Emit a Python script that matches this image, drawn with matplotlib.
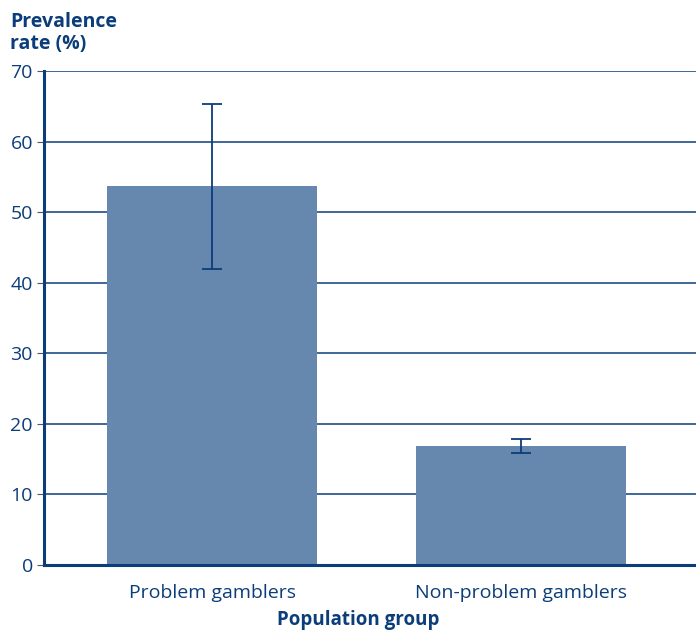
import matplotlib
matplotlib.use("Agg")
import matplotlib.pyplot as plt

categories = ["Problem gamblers", "Non-problem gamblers"]
values = [53.7, 16.9]
err_low = [42.0, 15.9]
err_high = [65.3, 17.9]
yticks = [0, 10, 20, 30, 40, 50, 60, 70]

navy = "#0B3D7A"
barc = "#6688AE"
plt.rcParams['font.family'] = ['Open Sans', 'DejaVu Sans']

fig = plt.figure(figsize=(6.96, 6.31), dpi=100)
ax = fig.add_axes([44/696, 1 - 565/631, (696-44)/696, (565-71)/631])

x = list(range(len(categories)))
lower = [v - l for v, l in zip(values, err_low)]
upper = [h - v for v, h in zip(values, err_high)]
ax.bar(x, values, width=0.68, color=barc, zorder=2)
ax.errorbar(x, values, yerr=[lower, upper], fmt='none', ecolor=navy,
            elinewidth=1.3, capsize=7.5, capthick=1.3, zorder=3)

ax.set_xlim(-0.544, 1.566)
ax.set_ylim(0, 70)
ax.set_yticks(yticks)
ax.set_xticks(x)
ax.set_xticklabels(categories)
ax.yaxis.grid(True, color=navy, linewidth=1.1, zorder=1)
ax.set_axisbelow(True)
for s in ['top', 'right']:
    ax.spines[s].set_visible(False)
for s in ['left', 'bottom']:
    ax.spines[s].set_color(navy)
    ax.spines[s].set_linewidth(2.2)
ax.tick_params(axis='y', length=5, color='#555555', labelsize=14, labelcolor=navy, pad=3)
ax.tick_params(axis='x', length=0, labelsize=14, labelcolor=navy, pad=14)

fig.text(10/696, 1 - 33/631, "Prevalence\nrate (%)", fontsize=14, fontweight='bold',
         color=navy, va='center', ha='left', linespacing=1.1)
fig.text(358 / 696, 1 / 631, "Population group", fontsize=13.5,
         fontweight='bold', color=navy, va='bottom', ha='center')

fig.savefig("out.png", dpi=100)
